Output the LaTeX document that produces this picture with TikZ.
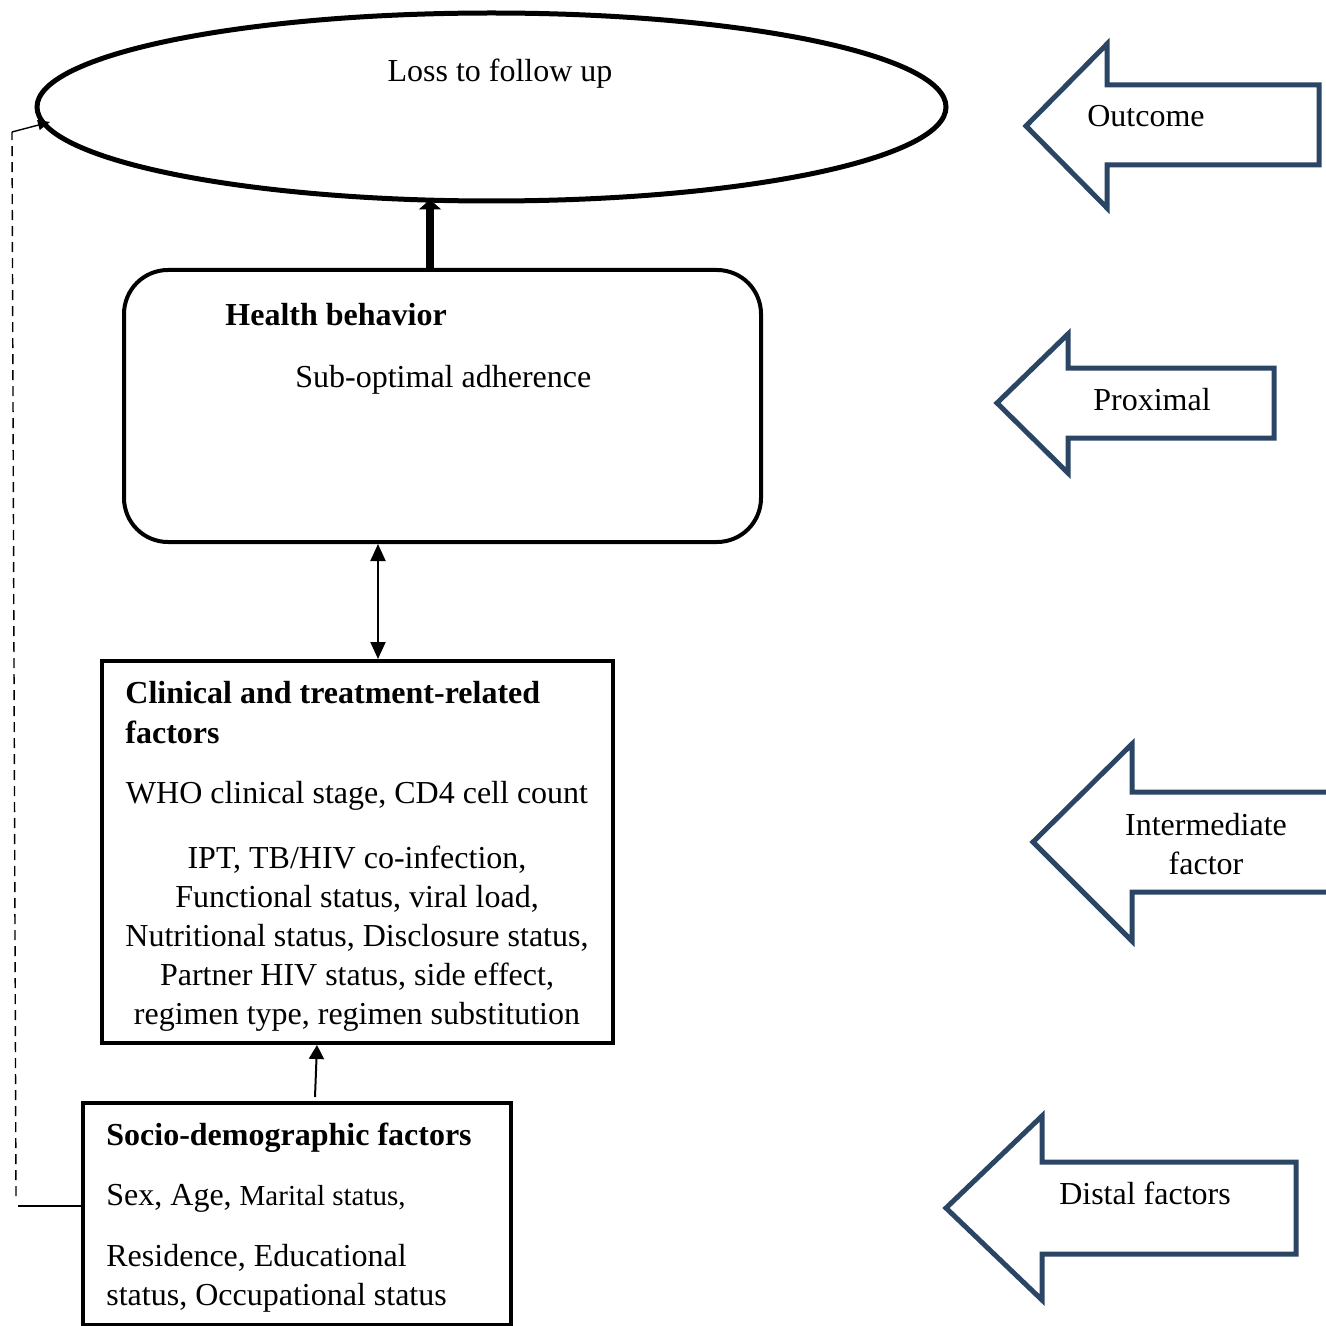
\documentclass[tikz,border=0pt]{standalone}
\usepackage{fontspec}
\setmainfont{Liberation Serif}
\usetikzlibrary{shapes.geometric,arrows.meta}
\definecolor{arrblue}{HTML}{2B4565}
\tikzset{
  x=0.5pt,y=-0.5pt,
  txt/.style={inner sep=0pt,font=\fontsize{16}{19.5}\selectfont},
  btxt/.style={inner sep=0pt,font=\fontsize{16}{20}\selectfont\bfseries},
  blockarrow/.style={draw=arrblue,line width=2.5pt,line join=miter,fill=white},
  conn/.style={line width=1pt,-{Triangle[length=7pt,width=7.5pt]}},
}
\begin{document}
\begin{tikzpicture}
\useasboundingbox (0,0) rectangle (1326,1326);
\clip (0,0) rectangle (1326,1326);
% ellipse
\node[ellipse,draw,line width=2.5pt,minimum width=454.5pt,minimum height=94pt,inner sep=0pt] (loss) at (491.5,107) {};
\node[txt,anchor=base] (losst) at (500,82) {Loss to follow up};
% health behaviour
\node[draw,line width=2pt,rounded corners=22pt,minimum width=318.5pt,minimum height=136pt,inner sep=0pt] (hb) at (442.5,406) {};
\node[btxt,anchor=base west] (hbt) at (225,326) {Health behavior};
\node[txt,anchor=base west] (hbs) at (295,387) {Sub-optimal adherence};
% clinical
\node[draw,line width=2pt,minimum width=255.5pt,minimum height=191pt,inner sep=0pt] (cl) at (357.5,852) {};
\node[btxt,anchor=base west] (clt1) at (125,703) {Clinical and treatment-related};
\node[btxt,anchor=base west] (clt2) at (125,743) {factors};
\node[txt,anchor=base] (clw) at (357,803) {WHO clinical stage, CD4 cell count};
\node[txt,anchor=base,align=center] (cli) at (357,1024) {IPT, TB/HIV co-infection,\\Functional status, viral load,\\Nutritional status, Disclosure status,\\Partner HIV status, side effect,\\regimen type, regimen substitution};
% socio
\node[draw,line width=2pt,minimum width=214pt,minimum height=111pt,inner sep=0pt] (so) at (297,1214) {};
\node[btxt,anchor=base west] (sot) at (106,1145) {Socio-demographic factors};
\node[txt,anchor=base west] (so1) at (106,1205) {Sex, Age, {\fontsize{14.5}{16}\selectfont Marital status,}};
\node[txt,anchor=base west,align=left] (so2) at (106,1305) {Residence, Educational\\status, Occupational status};
% connectors
\coordinate (a1) at (430,0);
\draw[line width=4pt,-{Triangle[length=5pt,width=11pt]}] (hb.north -| a1) -- ([yshift=2pt]loss.south -| a1);
\coordinate (a2) at (378,0);
\draw[line width=1pt,{Triangle[length=8.5pt,width=7.5pt]}-{Triangle[length=8.5pt,width=7.5pt]}] (hb.south -| a2) -- (cl.north -| a2);
\coordinate (a3) at (315,1097);
\coordinate (a4) at (317,0);
\draw[conn] (a3) -- (cl.south -| a4);
\coordinate (d1) at (18,1206);
\coordinate (d2) at (16,1196);
\coordinate (d3) at (12,132);
\coordinate (d4) at (50,122);
\draw[line width=0.6pt] (so.west |- d1) -- (d1);
\draw[line width=0.7pt,dash pattern=on 5pt off 3pt] (d2) -- (d3);
\draw[line width=0.7pt,-{Triangle[length=6pt,width=5pt]}] (d3) -- (d4);
% block arrows
\draw[blockarrow] (1319,85) -- (1107,85) -- (1107,44) -- (1026,126) -- (1107,208) -- (1107,165) -- (1319,165) -- cycle;
\node[txt,anchor=base] (out) at (1146,127) {Outcome};
\draw[blockarrow] (1274,368) -- (1068,368) -- (1068,334) -- (997,403) -- (1068,473) -- (1068,438) -- (1274,438) -- cycle;
\node[txt,anchor=base] (prox) at (1152,410) {Proximal};
\draw[blockarrow] (1345,792) -- (1132,792) -- (1132,744) -- (1033,842) -- (1132,941) -- (1132,892) -- (1345,892);
\node[txt,anchor=base,align=center] (inter) at (1206,874) {Intermediate\\factor};
\draw[blockarrow] (1296,1162) -- (1042,1162) -- (1042,1116) -- (946,1208) -- (1042,1300) -- (1042,1254) -- (1296,1254) -- cycle;
\node[txt,anchor=base] (dist) at (1145,1204) {Distal factors};
\end{tikzpicture}
\end{document}
